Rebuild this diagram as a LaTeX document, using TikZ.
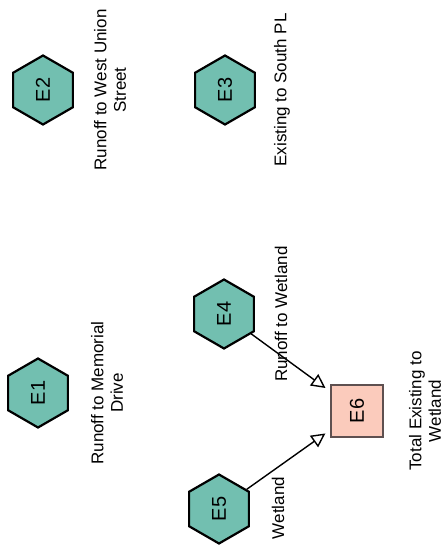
\documentclass[tikz,border=0pt]{standalone}
\usepackage{fontspec}
\setmainfont{Liberation Sans}
\usetikzlibrary{shapes.geometric,arrows.meta}
\definecolor{hexfill}{HTML}{72BFB0}
\definecolor{boxfill}{HTML}{FBCBBC}
\definecolor{boxline}{HTML}{5E5050}
\tikzset{
  hex/.style={regular polygon, regular polygon sides=6, minimum size=69pt, inner sep=0pt,
    draw=black, line width=2.2pt, fill=hexfill, rotate=90,
    font=\fontsize{20}{22}\selectfont},
  pond/.style={rectangle, minimum size=52pt, inner sep=0pt, draw=boxline, line width=1.5pt,
    fill=boxfill, rotate=90, font=\fontsize{20}{22}\selectfont},
  lbl/.style={rotate=90, align=center, inner sep=0pt, font=\fontsize{17}{19.5}\selectfont},
  flow/.style={line width=1.4pt, -{Triangle[open, length=14pt, width=14pt, line width=1.4pt]},
    shorten >=6pt}
}
\begin{document}
\begin{tikzpicture}[x=1pt,y=-1pt]
\useasboundingbox (0,0) rectangle (446,546);
\node[hex] (E1) at (38,393) {E1};
\node[hex] (E2) at (43,90) {E2};
\node[hex] (E3) at (225,90) {E3};
\node[hex] (E4) at (224,314) {E4};
\node[hex] (E5) at (219,509) {E5};
\node[pond] (E6) at (357,411) {E6};
\node[lbl] (L1) at (107,393) {Runoff to Memorial\\Drive};
\node[lbl] (L2) at (110,90) {Runoff to West Union\\Street};
\node[lbl] (L3) at (282,90) {Existing to South PL};
\node[lbl] (L4) at (281,314) {Runoff to Wetland};
\node[lbl] (L5) at (278,508) {Wetland};
\node[lbl] (L6) at (425,411) {Total Existing to\\Wetland};
\draw[flow] (E4) -- (E6);
\draw[flow] (E5) -- (E6);
\end{tikzpicture}
\end{document}
